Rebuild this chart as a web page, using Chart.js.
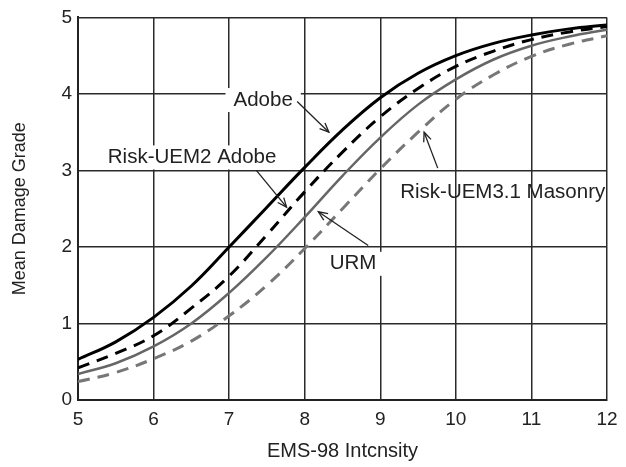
<!DOCTYPE html>
<html>
<head>
<meta charset="utf-8">
<script src="https://cdn.jsdelivr.net/npm/chart.js@4/dist/chart.umd.min.js"></script>
<style>
  html, body { margin: 0; padding: 0; background: #fff; }
  #wrap { width: 626px; height: 467px; }
</style>
</head>
<body>
<div id="wrap"><canvas id="myChart" width="626" height="467"></canvas></div>
<script>
// EMS-98 intensities (x) and mean damage grade
var intensity = [5, 5.5, 6, 6.5, 7, 7.5, 8, 8.5, 9, 9.5, 10, 10.5, 11, 11.5, 12];
var adobe      = [0.53, 0.76, 1.08, 1.49, 2.0, 2.52, 3.04, 3.53, 3.95, 4.27, 4.50, 4.66, 4.77, 4.85, 4.90];
var riskUem2   = [0.42, 0.61, 0.84, 1.20, 1.62, 2.16, 2.72, 3.24, 3.70, 4.07, 4.36, 4.56, 4.71, 4.81, 4.88];
var urm        = [0.34, 0.48, 0.70, 1.00, 1.40, 1.87, 2.39, 2.93, 3.43, 3.86, 4.19, 4.45, 4.63, 4.75, 4.84];
var riskUem31  = [0.24, 0.36, 0.54, 0.77, 1.10, 1.50, 1.98, 2.50, 3.02, 3.50, 3.93, 4.25, 4.49, 4.65, 4.76];

var xTicks = [5, 6, 7, 8, 9, 10, 11, 12];
var yTicks = [0, 1, 2, 3, 4, 5];

// labels and arrows on the plot (in data units)
var notes = [
    { text: 'Adobe', x: 7.45, y: 3.92, box: true, from: [7.90, 3.90], to: [8.32, 3.50] },
    { text: 'Risk-UEM2 Adobe', x: 6.51, y: 3.17, box: true, from: [7.36, 3.00], to: [7.76, 2.52] },
    { text: 'URM', x: 8.64, y: 1.78, box: true, from: [8.84, 2.02], to: [8.18, 2.46] },
    { text: 'Risk-UEM3.1 Masonry', x: 10.62, y: 2.71, box: false, from: [9.76, 3.03], to: [9.58, 3.50] }
];

var FONT = '"Liberation Sans", Arial, sans-serif';

function toPoints(ys) {
    return intensity.map(function(x, i) { return { x: x, y: ys[i] }; });
}

function drawArrow(ctx, x1, y1, x2, y2) {
    var ang = Math.atan2(y2 - y1, x2 - x1);
    var len = 10;
    ctx.beginPath();
    ctx.moveTo(x1, y1);
    ctx.lineTo(x2, y2);
    ctx.stroke();
    ctx.beginPath();
    ctx.moveTo(x2 - len * Math.cos(ang - 0.4), y2 - len * Math.sin(ang - 0.4));
    ctx.lineTo(x2, y2);
    ctx.lineTo(x2 - len * Math.cos(ang + 0.4), y2 - len * Math.sin(ang + 0.4));
    ctx.stroke();
}

// draws text labels with white boxes, and the arrows
var notesPlugin = {
    id: 'notes',
    afterDatasetsDraw: function(chart) {
        var ctx = chart.ctx;
        var xs = chart.scales.x, ys = chart.scales.y;
        ctx.save();
        ctx.font = '20.5px ' + FONT;
        ctx.textAlign = 'center';
        ctx.textBaseline = 'middle';
        notes.forEach(function(n) {
            var px = xs.getPixelForValue(n.x), py = ys.getPixelForValue(n.y);
            var w = ctx.measureText(n.text).width;
            if (n.box) {
                ctx.fillStyle = '#fff';
                ctx.fillRect(px - w / 2 - 8, py - 12, w + 16, 24);
            }
            ctx.fillStyle = '#222';
            ctx.fillText(n.text, px, py);
            ctx.strokeStyle = '#222';
            ctx.lineWidth = 1.3;
            drawArrow(ctx, xs.getPixelForValue(n.from[0]), ys.getPixelForValue(n.from[1]),
                      xs.getPixelForValue(n.to[0]), ys.getPixelForValue(n.to[1]));
        });
        ctx.restore();
    }
};

var ctx = document.getElementById('myChart').getContext('2d');
var myChart = new Chart(ctx, {
    type: 'line',
    data: {
        datasets: [{
            label: 'Adobe',
            data: toPoints(adobe),
            borderColor: '#000',
            borderWidth: 3
        }, {
            label: 'Risk-UEM2 Adobe',
            data: toPoints(riskUem2),
            borderColor: '#000',
            borderWidth: 3,
            borderDash: [12, 8]
        }, {
            label: 'URM',
            data: toPoints(urm),
            borderColor: '#666',
            borderWidth: 2.5
        }, {
            label: 'Risk-UEM3.1 Masonry',
            data: toPoints(riskUem31),
            borderColor: '#777',
            borderWidth: 3,
            borderDash: [12, 8]
        }]
    },
    options: {
        responsive: false,
        animation: false,
        elements: {
            point: { radius: 0 },
            line: { tension: 0.4, fill: false }
        },
        layout: { padding: { left: 0, top: 17, right: 19, bottom: 0 } },
        plugins: {
            legend: { display: false },
            tooltip: { enabled: false }
        },
        scales: {
            x: {
                type: 'linear',
                min: 5,
                max: 12,
                afterBuildTicks: function(scale) {
                    scale.ticks = xTicks.map(function(v) { return { value: v }; });
                },
                afterFit: function(scale) { scale.height = 67; },
                grid: { color: '#2a2a2a', lineWidth: 1.5, drawTicks: false },
                border: { color: '#222', width: 2 },
                ticks: { color: '#222', font: { family: FONT, size: 19 }, padding: 8, maxRotation: 0 },
                title: { display: true, text: 'EMS-98 Intcnsity', color: '#222', font: { family: FONT, size: 20 }, padding: { top: 9 } }
            },
            y: {
                min: 0,
                max: 5,
                afterBuildTicks: function(scale) {
                    scale.ticks = yTicks.map(function(v) { return { value: v }; });
                },
                afterFit: function(scale) { scale.width = 78; },
                grid: { color: '#2a2a2a', lineWidth: 1.5, drawTicks: false },
                border: { color: '#222', width: 2 },
                ticks: { color: '#222', font: { family: FONT, size: 19 }, padding: 6 },
                title: { display: true, text: 'Mean Damage Grade', color: '#222', font: { family: FONT, size: 18 }, padding: { top: 9, bottom: 8 } }
            }
        }
    },
    plugins: [notesPlugin]
});
</script>
</body>
</html>
